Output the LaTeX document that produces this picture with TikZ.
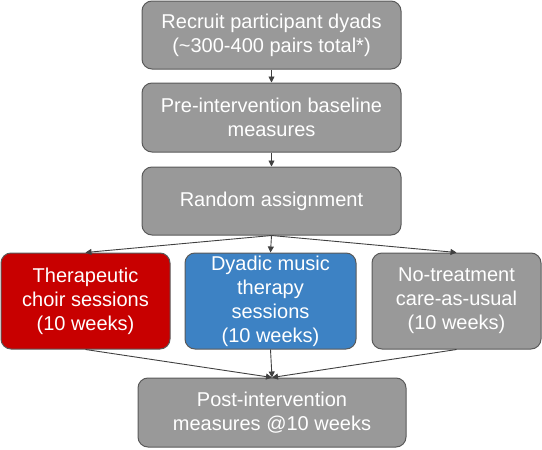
\documentclass[tikz,border=0pt]{standalone}
\usepackage{fontspec}
\setmainfont{Liberation Sans}
\usetikzlibrary{arrows.meta}
\definecolor{boxgray}{HTML}{999999}
\definecolor{edgegray}{HTML}{5A5A5A}
\definecolor{arrowgray}{HTML}{404040}
\definecolor{boxred}{HTML}{C80000}
\definecolor{boxblue}{HTML}{3D82C4}
\begin{document}
\begin{tikzpicture}[x=1pt,y=-1pt,
  box/.style={draw=edgegray, line width=1pt, rounded corners=10pt, fill=boxgray,
    text=white, font=\fontsize{20}{24}\selectfont, align=center, inner sep=0pt},
  conn/.style={draw=arrowgray, line width=0.9pt, -{Triangle[length=6pt,width=6pt]}}]
\useasboundingbox (0,0) rectangle (542,450);
\node[box, minimum width=259pt, minimum height=68pt] (recruit) at (271.5,35) {Recruit participant dyads\\(\textasciitilde300-400 pairs total*)};
\node[box, minimum width=259pt, minimum height=69pt] (pre) at (271.5,117.5) {Pre-intervention baseline\\measures};
\node[box, minimum width=259pt, minimum height=68pt] (rand) at (271.5,201) {Random assignment};
\node[box, fill=boxred, minimum width=169pt, minimum height=96pt] (choir) at (85.5,301) {Therapeutic\\choir sessions\\(10 weeks)};
\node[box, fill=boxblue, minimum width=171pt, minimum height=96pt] (music) at (270.5,301) {Dyadic music\\therapy\\sessions\\(10 weeks)};
\node[box, minimum width=169pt, minimum height=96pt] (usual) at (456.5,301) {No-treatment\\care-as-usual\\(10 weeks)};
\node[box, minimum width=268pt, minimum height=69pt] (post) at (272,412.5) {Post-intervention\\measures @10 weeks};
\draw[conn] (recruit.south) -- (pre.north);
\draw[conn] (pre.south) -- (rand.north);
\draw[conn] (rand.south) -- (choir.north);
\draw[conn] (rand.south) -- (music.north);
\draw[conn] (rand.south) -- (usual.north);
\draw[conn] (choir.south) -- (post.north);
\draw[conn] (music.south) -- (post.north);
\draw[conn] (usual.south) -- (post.north);
\end{tikzpicture}
\end{document}
